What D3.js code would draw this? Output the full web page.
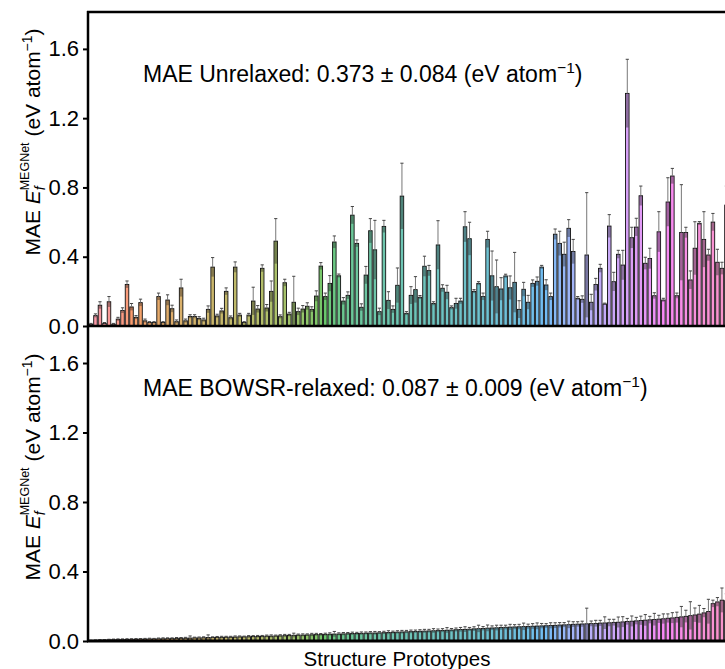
<!DOCTYPE html>
<html>
<head>
<meta charset="utf-8">
<script src="https://cdn.jsdelivr.net/npm/d3@7"></script>
<style>
  body { margin: 0; background: #fff; }
  svg { display: block; font-family: "Liberation Sans", Arial, sans-serif; }
</style>
</head>
<body>
<div id="chart"></div>
<script>
// MAE of MEGNet formation energy per structure prototype (only the visible part of the axis)
const unrelaxed = [
  0.01, 0.06, 0.12, 0.015, 0.14, 0.01, 0.04, 0.09, 0.24, 0.11,
  0.05, 0.135, 0.03, 0.02, 0.02, 0.17, 0.02, 0.15, 0.10, 0.025,
  0.22, 0.03, 0.055, 0.055, 0.044, 0.035, 0.096, 0.34, 0.058, 0.087,
  0.20, 0.048, 0.34, 0.063, 0.02, 0.063, 0.144, 0.098, 0.333, 0.104,
  0.20, 0.49, 0.054, 0.25, 0.069, 0.137, 0.083, 0.098, 0.114, 0.096,
  0.173, 0.346, 0.17, 0.246, 0.485, 0.29, 0.144, 0.177, 0.64, 0.477,
  0.108, 0.294, 0.55, 0.44, 0.083, 0.575, 0.148, 0.096, 0.235, 0.75,
  0.073, 0.177, 0.21, 0.166, 0.345, 0.32, 0.13, 0.468, 0.218, 0.195,
  0.106, 0.13, 0.144, 0.573, 0.504, 0.2, 0.246, 0.17, 0.5, 0.29,
  0.227, 0.214, 0.289, 0.221, 0.252, 0.096, 0.212, 0.137, 0.246, 0.258,
  0.34, 0.237, 0.17, 0.53, 0.477, 0.414, 0.564, 0.43, 0.16, 0.154,
  0.41, 0.137, 0.24, 0.333, 0.127, 0.577, 0.256, 0.414, 0.352, 1.343,
  0.51, 0.571, 0.752, 0.362, 0.39, 0.175, 0.544, 0.15, 0.716, 0.866,
  0.175, 0.54, 0.54, 0.266, 0.449, 0.593, 0.5, 0.41, 0.6, 0.368,
  0.333, 0.698
];
const unrelaxedErr = [
  0.005, 0.01, 0.02, 0.005, 0.03, 0.005, 0.01, 0.015, 0.02, 0.02,
  0.01, 0.02, 0.01, 0.005, 0.005, 0.02, 0.005, 0.03, 0.02, 0.01,
  0.05, 0.01, 0.01, 0.01, 0.01, 0.01, 0.02, 0.055, 0.01, 0.015,
  0.02, 0.01, 0.03, 0.01, 0.005, 0.01, 0.08, 0.02, 0.02, 0.02,
  0.06, 0.13, 0.01, 0.02, 0.01, 0.15, 0.02, 0.02, 0.02, 0.015,
  0.03, 0.02, 0.02, 0.045, 0.035, 0.01, 0.02, 0.02, 0.05, 0.02,
  0.02, 0.05, 0.07, 0.17, 0.02, 0.035, 0.05, 0.02, 0.1, 0.19,
  0.01, 0.05, 0.075, 0.01, 0.058, 0.03, 0.01, 0.14, 0.02, 0.04,
  0.01, 0.03, 0.016, 0.087, 0.095, 0.01, 0.01, 0.02, 0.047, 0.143,
  0.154, 0.065, 0.01, 0.068, 0.173, 0.05, 0.04, 0.04, 0.02, 0.025,
  0.01, 0.03, 0.02, 0.03, 0.07, 0.07, 0.05, 0.07, 0.01, 0.02,
  0.36, 0.046, 0.035, 0.023, 0.005, 0.066, 0.054, 0.023, 0.085, 0.197,
  0.06, 0.051, 0.056, 0.035, 0.059, 0.017, 0.116, 0.01, 0.14, 0.044,
  0.015, 0.276, 0.03, 0.052, 0.153, 0.01, 0.16, 0.033, 0.05, 0.075,
  0.035, 0.11
];
const relaxed = [
  0.003, 0.004, 0.005, 0.006, 0.007, 0.008, 0.008, 0.009, 0.009, 0.010,
  0.010, 0.011, 0.011, 0.012, 0.012, 0.013, 0.013, 0.014, 0.014, 0.015,
  0.016, 0.016, 0.017, 0.018, 0.018, 0.019, 0.020, 0.020, 0.021, 0.021,
  0.022, 0.022, 0.023, 0.024, 0.024, 0.025, 0.026, 0.026, 0.027, 0.028,
  0.028, 0.029, 0.030, 0.031, 0.032, 0.033, 0.034, 0.034, 0.035, 0.036,
  0.037, 0.037, 0.038, 0.039, 0.040, 0.040, 0.041, 0.042, 0.043, 0.043,
  0.044, 0.045, 0.046, 0.046, 0.047, 0.048, 0.049, 0.050, 0.051, 0.052,
  0.053, 0.054, 0.055, 0.056, 0.057, 0.058, 0.059, 0.060, 0.061, 0.062,
  0.063, 0.065, 0.066, 0.067, 0.068, 0.070, 0.071, 0.072, 0.074, 0.075,
  0.076, 0.078, 0.079, 0.080, 0.081, 0.082, 0.083, 0.084, 0.085, 0.086,
  0.087, 0.088, 0.089, 0.090, 0.092, 0.093, 0.094, 0.096, 0.097, 0.098,
  0.099, 0.100, 0.101, 0.103, 0.104, 0.105, 0.107, 0.108, 0.110, 0.112,
  0.114, 0.116, 0.118, 0.120, 0.122, 0.124, 0.126, 0.128, 0.131, 0.133,
  0.136, 0.139, 0.142, 0.146, 0.150, 0.155, 0.162, 0.170, 0.215, 0.225,
  0.235, 0.232
];
const relaxedErr = [
  0.002, 0.002, 0.003, 0.002, 0.003, 0.003, 0.004, 0.003, 0.004, 0.003,
  0.004, 0.003, 0.004, 0.004, 0.003, 0.004, 0.005, 0.004, 0.004, 0.005,
  0.004, 0.005, 0.012, 0.004, 0.005, 0.005, 0.015, 0.004, 0.005, 0.006,
  0.005, 0.005, 0.006, 0.005, 0.004, 0.006, 0.005, 0.006, 0.005, 0.006,
  0.007, 0.005, 0.006, 0.007, 0.006, 0.012, 0.006, 0.007, 0.006, 0.008,
  0.007, 0.006, 0.007, 0.008, 0.015, 0.007, 0.008, 0.007, 0.008, 0.007,
  0.008, 0.007, 0.008, 0.009, 0.007, 0.008, 0.010, 0.007, 0.008, 0.009,
  0.008, 0.009, 0.008, 0.009, 0.010, 0.009, 0.012, 0.009, 0.010, 0.015,
  0.009, 0.010, 0.012, 0.015, 0.010, 0.012, 0.020, 0.011, 0.018, 0.012,
  0.015, 0.013, 0.012, 0.016, 0.013, 0.014, 0.020, 0.013, 0.015, 0.018,
  0.014, 0.012, 0.016, 0.015, 0.014, 0.013, 0.020, 0.015, 0.014, 0.016,
  0.090, 0.015, 0.018, 0.016, 0.035, 0.020, 0.018, 0.030, 0.030, 0.018,
  0.030, 0.020, 0.025, 0.032, 0.020, 0.035, 0.022, 0.028, 0.025, 0.030,
  0.030, 0.060, 0.035, 0.080, 0.040, 0.050, 0.025, 0.070, 0.020, 0.025,
  0.070, 0.040
];
const yTicks = [0.0, 0.4, 0.8, 1.2, 1.6];
const panels = [
  { values: unrelaxed, errors: unrelaxedErr, label: "MAE Unrelaxed: 0.373 ± 0.084 (eV atom" },
  { values: relaxed, errors: relaxedErr, label: "MAE BOWSR-relaxed: 0.087 ± 0.009 (eV atom" }
];
const totalPrototypes = 150;

// seaborn husl palette (HSLuv -> sRGB)
const M = [[3.240969941904521, -1.537383177570093, -0.498610760293],
  [-0.96924363628087, 1.87596750150772, 0.041555057407175],
  [0.055630079696993, -0.20397695888897, 1.056971514242878]];
function maxChroma(L, H) {
  const hrad = H / 360 * 2 * Math.PI;
  const sub1 = Math.pow(L + 16, 3) / 1560896;
  const sub2 = sub1 > 0.0088564516 ? sub1 : L / 903.2962962;
  let min = Infinity;
  for (const [m1, m2, m3] of M) {
    for (const t of [0, 1]) {
      const top1 = (284517 * m1 - 94839 * m3) * sub2;
      const top2 = (838422 * m3 + 769860 * m2 + 731718 * m1) * L * sub2 - 769860 * t * L;
      const bottom = (632260 * m3 - 126452 * m2) * sub2 + 126452 * t;
      const len = (top2 / bottom) / (Math.sin(hrad) - (top1 / bottom) * Math.cos(hrad));
      if (len >= 0) min = Math.min(min, len);
    }
  }
  return min;
}
function husl(H, S, L) {
  const C = maxChroma(L, H) / 100 * S;
  const h = H / 360 * 2 * Math.PI;
  const U = Math.cos(h) * C, V = Math.sin(h) * C;
  const Y = L <= 8 ? L / 903.2962962 : Math.pow((L + 16) / 116, 3);
  const vu = U / (13 * L) + 0.19783000664283, vv = V / (13 * L) + 0.46831999493879;
  const X = 0 - (9 * Y * vu) / ((vu - 4) * vv - vu * vv);
  const Z = (9 * Y - 15 * vv * Y - vv * X) / (3 * vv);
  const rgb = M.map(([a, b, c]) => {
    const v = a * X + b * Y + c * Z;
    const g = v <= 0.0031308 ? 12.92 * v : 1.055 * Math.pow(v, 1 / 2.4) - 0.055;
    return Math.round(Math.max(0, Math.min(1, g)) * 255);
  });
  return d3.rgb(...rgb).formatHex();
}
const color = (i) => husl(((i / totalPrototypes + 0.01) % 1) * 359, 0.9 * 99, 0.65 * 99);

const width = 725, height = 669;
const left = 88, right = 729;
const svg = d3.select("#chart").append("svg").attr("width", width).attr("height", height);

const x = d3.scaleBand().domain(d3.range(unrelaxed.length)).range([89.2, 89.2 + unrelaxed.length * 4.5]).paddingInner(0.22);
const ranges = [[326, 12], [641, 326]];

panels.forEach((panel, p) => {
  const y = d3.scaleLinear().domain([0, 1.813]).range(ranges[p]);
  const g = svg.append("g");
  const data = panel.values.map((v, i) => ({ i, v, e: panel.errors[i] }));

  g.selectAll("rect.bar").data(data).join("rect").attr("class", "bar")
    .attr("x", (d) => x(d.i)).attr("width", x.bandwidth())
    .attr("y", (d) => y(d.v)).attr("height", (d) => y(0) - y(d.v))
    .attr("fill", (d) => color(d.i)).attr("fill-opacity", 0.72)
    .attr("stroke", "#111").attr("stroke-width", 0.9);

  g.selectAll("rect.band").data(data).join("rect").attr("class", "band")
    .attr("x", (d) => x(d.i) + 0.4).attr("width", x.bandwidth() - 0.8)
    .attr("y", (d) => y(d.v)).attr("height", (d) => y(Math.max(0, d.v - d.e)) - y(d.v))
    .attr("fill", "#222").attr("fill-opacity", 0.4);

  const cx = (d) => x(d.i) + x.bandwidth() / 2;
  g.selectAll("line.err").data(data).join("line").attr("class", "err")
    .attr("x1", cx).attr("x2", cx).attr("y1", (d) => y(d.v)).attr("y2", (d) => y(d.v + d.e))
    .attr("stroke", "#777").attr("stroke-width", 1);
  g.selectAll("line.cap").data(data).join("line").attr("class", "cap")
    .attr("x1", (d) => cx(d) - 1.6).attr("x2", (d) => cx(d) + 1.6)
    .attr("y1", (d) => y(d.v + d.e)).attr("y2", (d) => y(d.v + d.e))
    .attr("stroke", "#444").attr("stroke-width", 1);

  const axis = d3.axisLeft(y).tickValues(yTicks).tickFormat(d3.format(".1f")).tickSize(5).tickPadding(4);
  const ax = g.append("g").attr("transform", `translate(${left},0)`).call(axis);
  ax.select(".domain").remove();
  ax.selectAll(".tick line").attr("stroke", "#000").attr("stroke-width", 2);
  ax.selectAll(".tick text").attr("font-size", 22).attr("fill", "#000")
    .attr("font-family", "Liberation Sans, Arial, sans-serif");

  const note = g.append("text").attr("x", 143).attr("y", ranges[p][1] + 70)
    .attr("font-size", 23).attr("fill", "#000");
  note.append("tspan").text(panel.label);
  note.append("tspan").attr("font-size", 15.5).attr("dy", -9).text("−1");
  note.append("tspan").attr("dy", 9).text(")");

  const mid = p === 0 ? 142 : 467;
  const yl = g.append("text").attr("transform", `translate(40,${mid}) rotate(-90)`)
    .attr("text-anchor", "middle").attr("font-size", 21).attr("fill", "#000");
  yl.append("tspan").text("MAE ");
  yl.append("tspan").attr("font-style", "italic").text("E");
  yl.append("tspan").attr("font-style", "italic").attr("font-size", 14).attr("dy", 5).text("f");
  yl.append("tspan").attr("font-size", 12.5).attr("dx", -4).attr("dy", -16).text("MEGNet");
  yl.append("tspan").attr("dy", 11).text(" (eV atom");
  yl.append("tspan").attr("font-size", 14).attr("dy", -8).text("−1");
  yl.append("tspan").attr("dy", 8).text(")");
});

// frame
svg.append("line").attr("x1", left).attr("x2", left).attr("y1", 11).attr("y2", 642).attr("stroke", "#000").attr("stroke-width", 2.5);
[[12, 2.5], [326, 2.5], [641, 3]].forEach(([yy, w]) => {
  svg.append("line").attr("x1", left - 1).attr("x2", right).attr("y1", yy).attr("y2", yy).attr("stroke", "#000").attr("stroke-width", w);
});

svg.append("text").attr("x", 397).attr("y", 666).attr("text-anchor", "middle")
  .attr("font-size", 20.5).attr("fill", "#000").text("Structure Prototypes");
</script>
</body>
</html>
